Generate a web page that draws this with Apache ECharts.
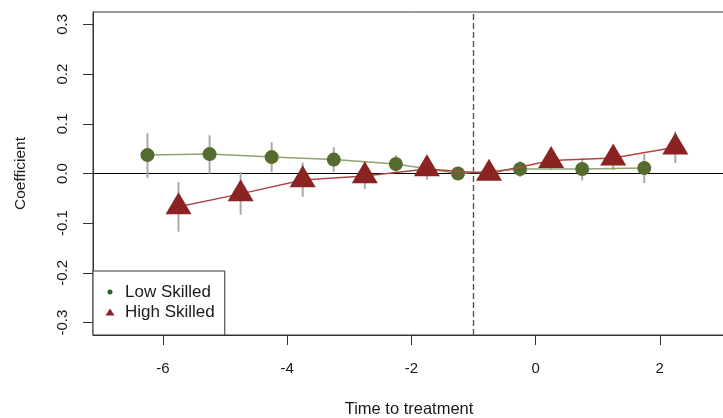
<!DOCTYPE html>
<html>
<head>
<meta charset="utf-8">
<script src="https://cdn.jsdelivr.net/npm/echarts@6/dist/echarts.min.js"></script>
<style>
  html, body { margin: 0; padding: 0; background: #fff; }
  #chart { width: 723px; height: 418px; }
</style>
</head>
<body>
<div id="chart"></div>
<script>
// Event-study coefficients with confidence intervals
const lowTime  = [-6.25, -5.25, -4.25, -3.25, -2.25, -1.25, -0.25, 0.75, 1.75];
const lowCoef  = [0.037, 0.039, 0.033, 0.028, 0.019, 0.000, 0.009, 0.009, 0.011];
const lowLo    = [-0.009, 0.000, 0.003, 0.003, 0.003, 0.000, -0.007, -0.014, -0.019];
const lowHi    = [0.081, 0.077, 0.063, 0.053, 0.037, 0.000, 0.025, 0.031, 0.039];

const highTime = [-5.75, -4.75, -3.75, -2.75, -1.75, -0.75, 0.25, 1.25, 2.25];
const highCoef = [-0.067, -0.041, -0.013, -0.005, 0.009, 0.000, 0.026, 0.031, 0.053];
const highLo   = [-0.117, -0.083, -0.047, -0.031, -0.012, 0.000, 0.007, 0.007, 0.021];
const highHi   = [-0.017, 0.003, 0.022, 0.021, 0.030, 0.000, 0.045, 0.055, 0.085];

const xTicks = [-6, -4, -2, 0, 2];
const yTicks = [-0.3, -0.2, -0.1, 0.0, 0.1, 0.2, 0.3];
const treatmentLine = -1;

const X_MIN = -7.127, X_MAX = 3.05;
const Y_MIN = -0.325, Y_MAX = 0.325;

const FONT = '"Liberation Sans", Arial, sans-serif';
const TRI_H = 22;

function pairs(xs, ys) { return xs.map((x, i) => [x, ys[i]]); }
function bars(xs, lo, hi) { return xs.map((x, i) => [x, lo[i], hi[i]]); }

function errorBarSeries(data) {
  return {
    type: 'custom',
    silent: true,
    z: 1,
    data: data,
    encode: { x: 0, y: [1, 2] },
    renderItem: function (params, api) {
      const x = api.value(0);
      const a = api.coord([x, api.value(1)]);
      const b = api.coord([x, api.value(2)]);
      return {
        type: 'line',
        shape: { x1: a[0], y1: a[1], x2: b[0], y2: b[1] },
        style: { stroke: '#aaaaaa', lineWidth: 2 }
      };
    }
  };
}

const chart = echarts.init(document.getElementById('chart'), null, { renderer: 'canvas' });

chart.setOption({
  animation: false,
  backgroundColor: '#ffffff',
  textStyle: { fontFamily: FONT },
  grid: {
    left: 93, top: 12, right: -2, bottom: 83,
    outerBoundsMode: 'none',
    containLabel: false,
    show: true, borderColor: '#333', borderWidth: 1, backgroundColor: 'transparent'
  },
  xAxis: {
    type: 'value',
    min: X_MIN, max: X_MAX,
    name: 'Time to treatment',
    nameLocation: 'middle',
    nameGap: 66,
    nameTextStyle: { fontSize: 16.5, color: '#1a1a1a', fontFamily: FONT },
    axisLine: { show: true, onZero: false, lineStyle: { color: '#333', width: 1 } },
    axisTick: { show: true, length: 10, customValues: xTicks, lineStyle: { color: '#333' } },
    axisLabel: {
      customValues: xTicks, margin: 26, fontSize: 15, color: '#1a1a1a',
      formatter: v => String(v)
    },
    splitLine: { show: false }
  },
  yAxis: {
    type: 'value',
    min: Y_MIN, max: Y_MAX,
    name: 'Coefficient',
    nameLocation: 'middle',
    nameGap: 64,
    nameRotate: 90,
    nameTextStyle: { fontSize: 15.5, color: '#1a1a1a', fontFamily: FONT },
    axisLine: { show: true, onZero: false, lineStyle: { color: '#333', width: 1 } },
    axisTick: { show: true, length: 10, customValues: yTicks, lineStyle: { color: '#333' } },
    axisLabel: {
      customValues: yTicks, margin: 23, fontSize: 15, color: '#1a1a1a', rotate: 90,
      formatter: v => v.toFixed(1)
    },
    splitLine: { show: false }
  },
  legend: {
    orient: 'vertical',
    left: 93, top: 271,
    padding: [12, 10, 14, 12],
    itemGap: 2,
    itemWidth: 10, itemHeight: 10,
    itemTextGap: 10,
    backgroundColor: '#ffffff',
    borderColor: '#333', borderWidth: 1, borderRadius: 0,
    textStyle: {
      fontSize: 17, color: '#1a1a1a', fontFamily: FONT, lineHeight: 18,
      padding: [0, 0, 0, 5]
    },
    data: [
      {
        name: 'Low Skilled',
        icon: 'path://M0,0 M10,10 M2.5,5 A2.5,2.5 0 1,0 7.5,5 A2.5,2.5 0 1,0 2.5,5 Z',
        itemStyle: { color: '#1f6b1f', borderWidth: 0 }
      },
      {
        name: 'High Skilled',
        icon: 'path://M0,0 M10,10 M5,1.5 L9.5,8.5 L0.5,8.5 Z',
        itemStyle: { color: '#8b2525', borderWidth: 0 }
      }
    ]
  },
  series: [
    // reference lines: zero effect and treatment onset
    {
      type: 'line', silent: true, z: 0, symbol: 'none',
      data: [[X_MIN, 0], [X_MAX, 0]],
      lineStyle: { color: '#000', width: 1.2 }
    },
    {
      type: 'line', silent: true, z: 0, symbol: 'none',
      data: [[treatmentLine, Y_MIN], [treatmentLine, Y_MAX]],
      lineStyle: { color: '#555', width: 1.4, type: [6, 3] }
    },
    errorBarSeries(bars(lowTime, lowLo, lowHi)),
    errorBarSeries(bars(highTime, highLo, highHi)),
    {
      name: 'Low Skilled',
      type: 'line', z: 3,
      data: pairs(lowTime, lowCoef),
      symbol: 'circle', symbolSize: 14, showAllSymbol: true,
      itemStyle: { color: '#556b2f' },
      lineStyle: { color: '#8ea46c', width: 1.5 }
    },
    {
      name: 'High Skilled',
      type: 'line', z: 4,
      data: pairs(highTime, highCoef),
      symbol: 'triangle', symbolSize: [26, TRI_H], symbolOffset: [0, -TRI_H / 6],
      showAllSymbol: true,
      itemStyle: { color: '#8b2323' },
      lineStyle: { color: '#b04545', width: 1.5 }
    }
  ]
});
</script>
</body>
</html>
